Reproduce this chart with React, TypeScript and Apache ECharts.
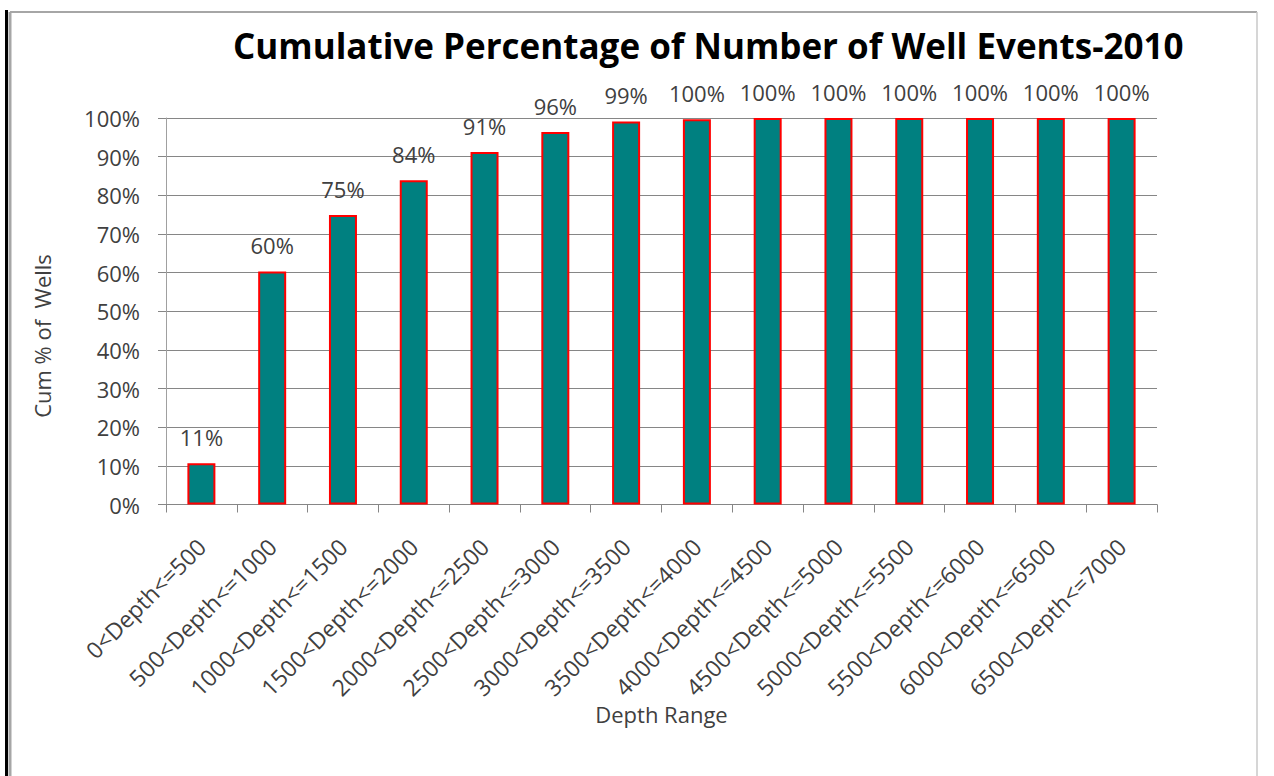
import React, { useEffect, useRef } from "react";
import * as echarts from "echarts";

const categories = [
  "0<Depth<=500",
  "500<Depth<=1000",
  "1000<Depth<=1500",
  "1500<Depth<=2000",
  "2000<Depth<=2500",
  "2500<Depth<=3000",
  "3000<Depth<=3500",
  "3500<Depth<=4000",
  "4000<Depth<=4500",
  "4500<Depth<=5000",
  "5000<Depth<=5500",
  "5500<Depth<=6000",
  "6000<Depth<=6500",
  "6500<Depth<=7000",
];
const cumPercent = [10.7, 60.3, 74.9, 83.9, 91.2, 96.4, 99.1, 99.7, 100, 100, 100, 100, 100, 100];

const titleText = "Cumulative Percentage of Number of Well Events-2010";
const xAxisName = "Depth Range";
const yAxisName = "Cum % of  Wells";

const FONT = "'Open Sans', 'Noto Sans', sans-serif";
const TEXT = "#404040";
const GRID = "#868686";

export default function App() {
  const ref = useRef<HTMLDivElement>(null);
  useEffect(() => {
    if (!ref.current) return;
    const chart = echarts.init(ref.current, undefined, { renderer: "svg" });
    chart.setOption({
      animation: false,
      backgroundColor: "#ffffff",
      title: {
        text: titleText,
        left: 228,
        top: 23,
        textStyle: { fontFamily: FONT, fontWeight: "bold", fontSize: 35, color: "#000" },
      },
      grid: { left: 166, right: 117, top: 118, bottom: 271.5, containLabel: false },
      xAxis: {
        type: "category",
        data: categories,
        name: xAxisName,
        nameLocation: "middle",
        nameGap: 198,
        nameTextStyle: { fontFamily: FONT, fontSize: 22, color: TEXT },
        axisLine: { show: true, lineStyle: { color: GRID, width: 1 } },
        axisTick: { show: true, length: 8, alignWithLabel: false, lineStyle: { color: GRID } },
        axisLabel: {
          rotate: 45,
          margin: 38,
          interval: 0,
          fontFamily: FONT,
          fontSize: 23,
          color: TEXT,
        },
      },
      yAxis: {
        type: "value",
        min: 0,
        max: 100,
        interval: 10,
        axisLine: { show: true, lineStyle: { color: "#a0a0a0", width: 1 } },
        axisTick: { show: true, length: 8, inside: false, lineStyle: { color: GRID } },
        splitLine: { show: true, lineStyle: { color: GRID, width: 1 } },
        axisLabel: {
          formatter: (v: number) => `${v}%`,
          margin: 26,
          fontFamily: FONT,
          fontSize: 22,
          color: TEXT,
        },
      },
      series: [
        {
          type: "bar",
          data: cumPercent,
          barWidth: 28,
          itemStyle: { color: "#008080", borderColor: "#ff0000", borderWidth: 2 },
          label: {
            show: true,
            position: "top",
            distance: 15,
            formatter: (p: any) => `${Math.round(p.value)}%`,
            fontFamily: FONT,
            fontSize: 22,
            color: TEXT,
          },
        },
      ],
      graphic: [
        {
          type: "text",
          x: 42,
          y: 336,
          rotation: Math.PI / 2,
          style: {
            text: yAxisName,
            fontFamily: FONT,
            fontSize: 22,
            fill: TEXT,
            textAlign: "center",
            textVerticalAlign: "middle",
          },
        },
        { type: "rect", shape: { x: 5, y: 10, width: 3, height: 766 }, style: { fill: "#000" } },
        { type: "line", shape: { x1: 10, y1: 12, x2: 1257, y2: 12 }, style: { stroke: "#a6a6a6", lineWidth: 2 } },
        { type: "line", shape: { x1: 10, y1: 12, x2: 10, y2: 776 }, style: { stroke: "#a6a6a6", lineWidth: 3 } },
        { type: "line", shape: { x1: 1257, y1: 12, x2: 1257, y2: 776 }, style: { stroke: "#c8c8c8", lineWidth: 1.5 } },
      ],
    });
    return () => chart.dispose();
  }, []);
  return (
    <div
      ref={ref}
      style={{ position: "fixed", left: 0, top: 0, width: 1274, height: 776 }}
    />
  );
}
